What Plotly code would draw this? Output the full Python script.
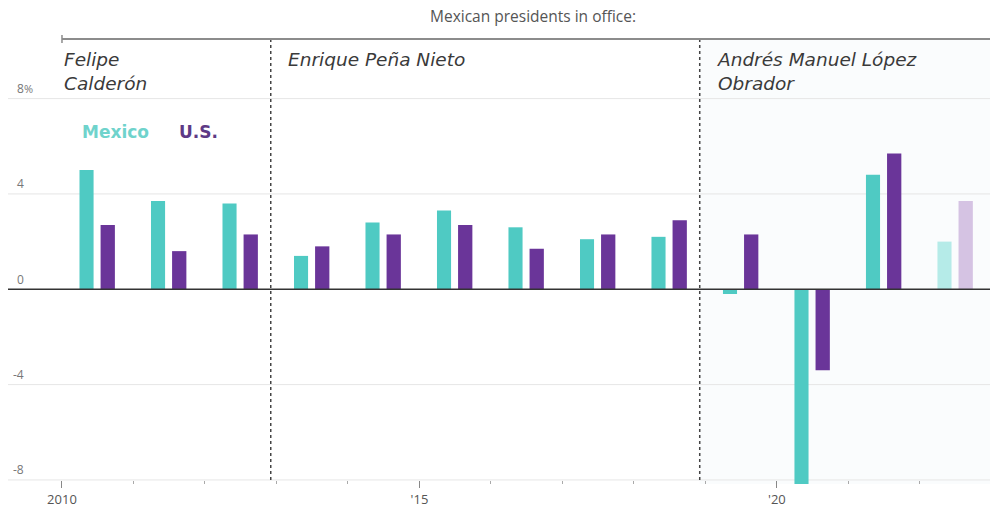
import plotly.graph_objects as go

# Annual GDP growth, percent
years = list(range(2010, 2023))
mexico = [5.0, 3.7, 3.6, 1.4, 2.8, 3.3, 2.6, 2.1, 2.2, -0.2, -8.2, 4.8, 2.0]
us = [2.7, 1.6, 2.3, 1.8, 2.3, 2.7, 1.7, 2.3, 2.9, 2.3, -3.4, 5.7, 3.7]
forecast_years = [2022]

# Presidential terms (start as fractional year)
president_names = ["Felipe<br>Calderón", "Enrique Peña Nieto", "Andrés Manuel López<br>Obrador"]
term_starts = [2006.92, 2012.92, 2018.92]

y_ticks = [8, 4, 0, -4, -8]
x_tick_vals = [2010, 2015, 2020]
x_tick_text = ["2010", "'15", "'20"]

TEAL, TEAL_LIGHT = "#4fcac3", "#b5ebe8"
PURPLE, PURPLE_LIGHT = "#6a3599", "#d5c3e3"

X_RANGE = [2009.245, 2022.98]
Y_RANGE = [-8.17, 10.5]

mex_colors = [TEAL_LIGHT if y in forecast_years else TEAL for y in years]
us_colors = [PURPLE_LIGHT if y in forecast_years else PURPLE for y in years]

fig = go.Figure()
fig.add_trace(go.Bar(x=years, y=mexico, name="Mexico", offset=0.245, width=0.197,
                     marker=dict(color=mex_colors, line=dict(width=0)), showlegend=False))
fig.add_trace(go.Bar(x=years, y=us, name="U.S.", offset=0.54, width=0.2,
                     marker=dict(color=us_colors, line=dict(width=0)), showlegend=False))

shapes = []
# faint shading for the current administration
shapes.append(dict(type="rect", xref="x", yref="paper", x0=term_starts[-1], x1=X_RANGE[1],
                   y0=0, y1=1, fillcolor="#fafcfd", line=dict(width=0), layer="below"))
# gridlines
for v in y_ticks:
    if v == 0:
        continue
    shapes.append(dict(type="line", xref="paper", yref="y", x0=0, x1=1, y0=v, y1=v,
                       line=dict(color="#e6e6e6", width=1), layer="below"))
# zero line
shapes.append(dict(type="line", xref="paper", yref="y", x0=0, x1=1, y0=0, y1=0,
                   line=dict(color="#333333", width=1.6), layer="above"))
# term boundaries
for s in term_starts:
    if s > X_RANGE[0]:
        shapes.append(dict(type="line", xref="x", yref="y", x0=s, x1=s, y0=-8, y1=Y_RANGE[1],
                           line=dict(color="#444444", width=1.5, dash="dot"), layer="above"))
# top bracket
shapes.append(dict(type="line", xref="x", yref="paper", x0=2010, x1=X_RANGE[1], y0=1, y1=1,
                   line=dict(color="#8c8c8c", width=2)))
shapes.append(dict(type="line", xref="x", yref="paper", x0=2010, x1=2010, y0=0.991, y1=1.009,
                   line=dict(color="#8c8c8c", width=1.5)))

annotations = []
annotations.append(dict(text="Mexican presidents in office:", xref="paper", yref="paper",
                        x=0.535, y=1, yanchor="bottom", yshift=10, showarrow=False,
                        font=dict(family="Open Sans", size=15.5, color="#555555")))
for name, start in zip(president_names, term_starts):
    xpos = max(start + 0.22, 2010)
    annotations.append(dict(text=name, xref="x", yref="paper", x=xpos, y=1, xanchor="left",
                            yanchor="top", yshift=-8, align="left", showarrow=False,
                            font=dict(family="DejaVu Sans", size=18.5, color="#3a3a3a",
                                      style="italic")))
# y tick labels above the gridlines
for v in y_ticks:
    annotations.append(dict(text=str(v), xref="paper", yref="y", x=0, y=v, xanchor="right",
                            yanchor="middle", xshift=18, yshift=10, showarrow=False,
                            font=dict(family="Open Sans", size=12, color="#777777")))
    if v == max(y_ticks):
        annotations.append(dict(text="%", xref="paper", yref="y", x=0, y=v, xanchor="left",
                                yanchor="middle", xshift=14, yshift=10, showarrow=False,
                                font=dict(family="Open Sans", size=11, color="#777777")))
# series labels
annotations.append(dict(text="<b>Mexico</b>", xref="x", yref="y", x=2010.245, y=6.6,
                        xanchor="left", showarrow=False,
                        font=dict(family="DejaVu Sans", size=17, color="#6fd3cc")))
annotations.append(dict(text="<b>U.S.</b>", xref="x", yref="y", x=2011.61, y=6.6,
                        xanchor="left", showarrow=False,
                        font=dict(family="DejaVu Sans", size=17, color="#5e3a86")))

fig.update_layout(
    width=992, height=510,
    margin=dict(l=8, r=2, t=39, b=22),
    paper_bgcolor="white", plot_bgcolor="white",
    barmode="overlay",
    shapes=shapes, annotations=annotations,
    xaxis=dict(range=X_RANGE, tickmode="array", tickvals=x_tick_vals, ticktext=x_tick_text,
               ticks="outside", ticklen=7, tickcolor="#888888", tickwidth=1,
               showgrid=False, zeroline=False, showline=False,
               anchor="free", position=4 / 449,
               tickfont=dict(family="Open Sans", size=13, color="#555555"),
               minor=dict(tickmode="array", tickvals=years, ticks="outside", ticklen=3,
                          tickcolor="#aaaaaa", tickwidth=1, showgrid=False)),
    yaxis=dict(range=Y_RANGE, showticklabels=False, showgrid=False, zeroline=False,
               ticks="", showline=False),
)

fig.write_html("out.html")
